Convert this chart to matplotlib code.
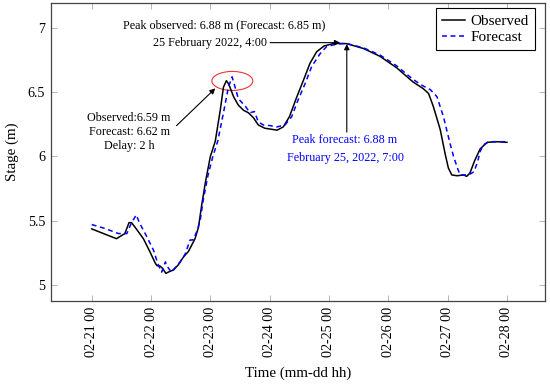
import matplotlib
matplotlib.use("Agg")
import matplotlib.dates as mdates
import matplotlib.pyplot as plt
import pandas as pd
from matplotlib.patches import Ellipse

# horas desde 2022-02-21 00:00
inicio = pd.Timestamp("2022-02-21 00:00")

obs_horas = [0, 10, 13.4, 15.1, 16.1, 17.5, 20.9, 23.5, 25.7, 26.4, 27.6, 28.6, 30, 31,
             33.1, 35, 37.2, 39.1, 41.8, 43.2, 44.4, 46, 48, 50, 52, 53.3, 54.5, 55.5,
             57.4, 59.3, 61.4, 63.4, 65.5, 67.4, 70, 75, 77.5, 80, 83, 85.7, 88.3, 91,
             94, 97.7, 100, 103.2, 110, 116.6, 123.4, 130, 134, 136.3, 138.2, 141, 143,
             144.3, 145.7, 147.8, 150.5, 151.7, 153, 155, 157.2, 160, 164, 168]
obs_nivel = [5.436, 5.36, 5.40, 5.485, 5.485, 5.45, 5.36, 5.26, 5.17, 5.15, 5.148, 5.13,
             5.09, 5.10, 5.117, 5.156, 5.22, 5.26, 5.36, 5.45, 5.61, 5.80, 6.0, 6.12, 6.36,
             6.54, 6.59, 6.56, 6.465, 6.40, 6.36, 6.34, 6.30, 6.245, 6.22, 6.205, 6.23,
             6.31, 6.465, 6.595, 6.725, 6.815, 6.86, 6.878, 6.88, 6.878, 6.84, 6.78, 6.69,
             6.58, 6.53, 6.49, 6.39, 6.21, 6.02, 5.91, 5.856, 5.85, 5.856, 5.845, 5.87,
             5.97, 6.06, 6.11, 6.115, 6.11]

prev_horas = [0, 5.3, 10.8, 14.2, 16, 18, 19.4, 22.3, 25, 26.9, 28.3, 29.8, 30.7, 32.2,
              33.6, 35.8, 37.7, 39.8, 41, 42.5, 43.9, 45.1, 47, 49, 51, 53.5, 55.3, 56.8,
              58, 59.3, 62.2, 64, 65.8, 67.4, 69.4, 72.2, 74.9, 78.2, 80.9, 83.5, 86.4,
              89, 92.4, 95, 99, 103, 110, 116.6, 123.4, 130, 134, 137, 139.7, 142.3, 145,
              146.4, 147.8, 149, 152.4, 154.6, 156, 157.2, 158.4, 160.3, 162.5, 168]
prev_nivel = [5.47, 5.44, 5.40, 5.40, 5.48, 5.545, 5.48, 5.375, 5.27, 5.156, 5.10, 5.18,
              5.14, 5.10, 5.13, 5.18, 5.235, 5.35, 5.35, 5.415, 5.505, 5.66, 5.85, 6.0,
              6.12, 6.36, 6.54, 6.62, 6.54, 6.45, 6.39, 6.34, 6.35, 6.27, 6.245, 6.24,
              6.23, 6.245, 6.31, 6.44, 6.57, 6.70, 6.80, 6.855, 6.875, 6.88, 6.845, 6.79,
              6.705, 6.60, 6.55, 6.52, 6.465, 6.31, 6.10, 6.00, 5.92, 5.856, 5.856, 5.88,
              5.95, 6.04, 6.09, 6.11, 6.115, 6.115]


def t(h):
    return mdates.date2num(inicio + pd.Timedelta(hours=h))


plt.rcParams["font.family"] = ["Liberation Serif", "DejaVu Serif"]

fig = plt.figure(figsize=(5.5, 3.85), dpi=100)
ax = fig.add_axes([0.0922, 0.2182, 0.8987, 0.7748])

x_obs = [t(h) for h in obs_horas]
x_prev = [t(h) for h in prev_horas]
ax.plot(x_obs, obs_nivel, color="black", lw=1.1, label="Observed")
ax.plot(x_prev, prev_nivel, color="blue", lw=1.1, dashes=(3.2, 2.4), label="Forecast")

# elipse no pico de 23/02
ax.add_patch(Ellipse((t(56.9), 6.588), width=0.69, height=0.148,
                     fill=False, edgecolor="#ee3333", lw=0.8))

seta = dict(arrowstyle="-|>", color="black", lw=0.8, mutation_scale=8, shrinkA=0, shrinkB=0)

ax.text(t(15.1), 6.19, "Observed:6.59 m\nForecast: 6.62 m\nDelay: 2 h",
        ha="center", va="center", multialignment="center", fontsize=8.7, linespacing=1.25)
ax.annotate("", xy=(t(50), 6.53), xytext=(t(34.3), 6.24), arrowprops=seta)

ax.text(t(53.5), 7.018, "Peak observed: 6.88 m (Forecast: 6.85 m)",
        ha="center", va="center", fontsize=8.7)
ax.text(t(47.8), 6.886, "25 February 2022, 4:00", ha="center", va="center", fontsize=8.7)
ax.annotate("", xy=(t(100.5), 6.886), xytext=(t(72.2), 6.886), arrowprops=seta)

ax.annotate("", xy=(t(103.2), 6.875), xytext=(t(103.2), 6.19), arrowprops=seta)
ax.text(t(102.5), 6.128, "Peak forecast: 6.88 m", ha="center", va="center",
        fontsize=8.7, color="blue")
ax.text(t(102.5), 5.988, "February 25, 2022, 7:00", ha="center", va="center",
        fontsize=8.7, color="blue")

ax.set_xlim(t(-16.6), t(183.4))
ax.set_ylim(4.875, 7.197)
ax.xaxis.set_major_locator(mdates.DayLocator())
ax.xaxis.set_major_formatter(mdates.DateFormatter("%m-%d %H"))
ax.set_yticks([5, 5.5, 6, 6.5, 7])
ax.set_yticklabels(["5", "5.5", "6", "6.5", "7"])

ax.tick_params(direction="in", length=4, width=0.6, color="#aaaaaa",
               top=True, right=True, labelsize=10.2, pad=4)
plt.setp(ax.get_xticklabels(), rotation=90)
for s in ax.spines.values():
    s.set_color("#444444")
    s.set_linewidth(0.9)

ax.set_xlabel("Time (mm-dd hh)", fontsize=10.8, labelpad=7)
ax.set_ylabel("Stage (m)", fontsize=10.8, labelpad=6)

leg = ax.legend(loc="upper right", bbox_to_anchor=(0.98, 0.981), fontsize=11,
                fancybox=False, framealpha=1, edgecolor="black", handlelength=1.5,
                handletextpad=0.35, labelspacing=0.15, borderpad=0.4, borderaxespad=0)
leg.get_frame().set_linewidth(0.8)

fig.savefig("out.png", dpi=100)
